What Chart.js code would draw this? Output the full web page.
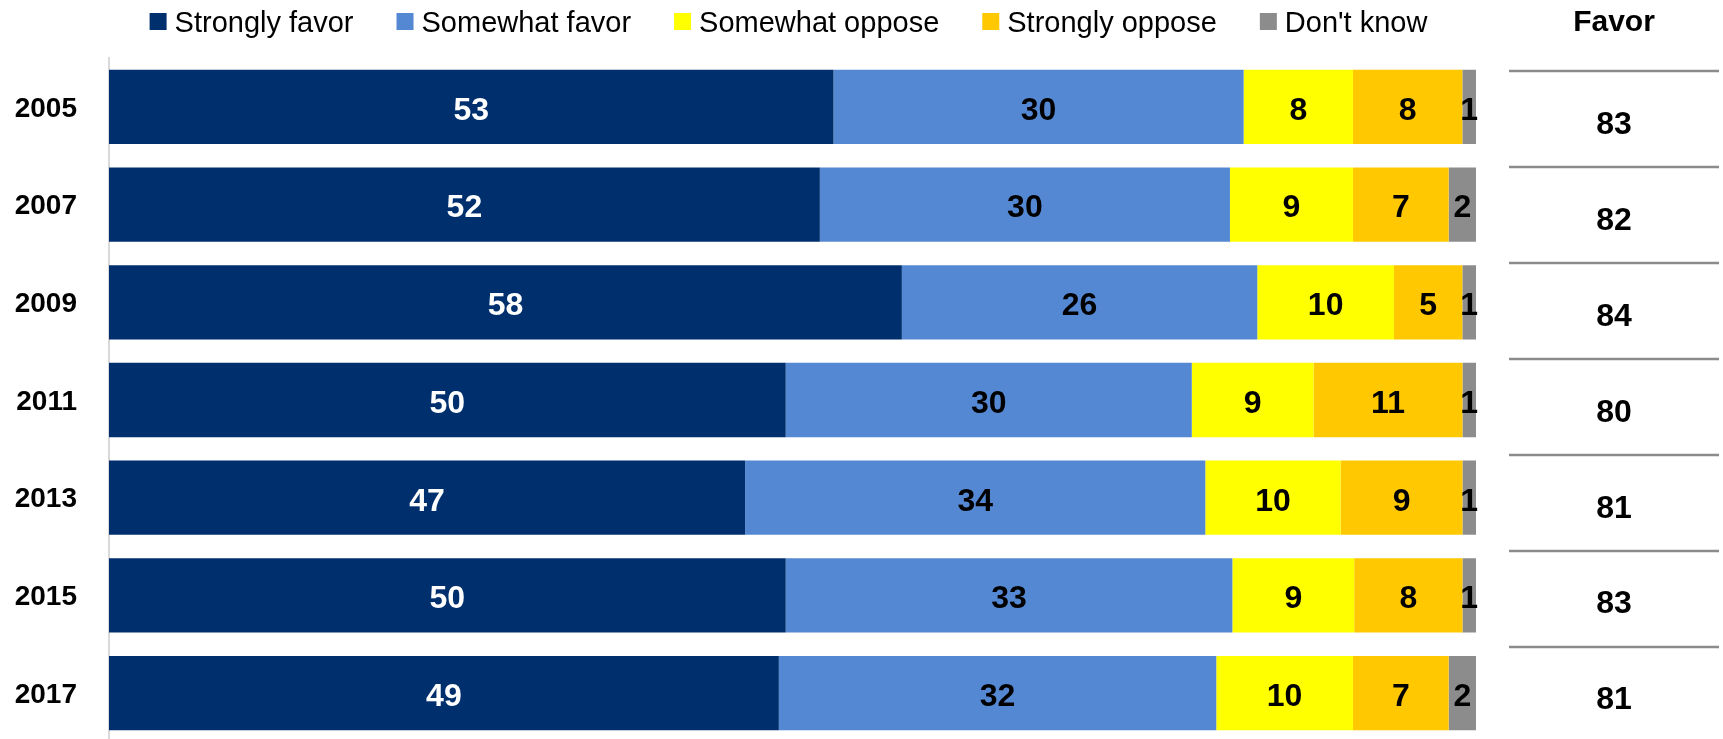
<!DOCTYPE html>
<html>
<head>
<meta charset="utf-8">
<script src="https://cdn.jsdelivr.net/npm/chart.js@4"></script>
<style>
  html, body { margin: 0; padding: 0; background: #fff; overflow: hidden; }
  #wrap { position: relative; width: 1723px; height: 760px; }
</style>
</head>
<body>
<div id="wrap"><canvas id="chart"></canvas></div>
<script>
// survey years (rows)
const years = ['2005', '2007', '2009', '2011', '2013', '2015', '2017'];

// answer shares, % as labelled
const stronglyFavor  = [53, 52, 58, 50, 47, 50, 49];
const somewhatFavor  = [30, 30, 26, 30, 34, 33, 32];
const somewhatOppose = [8, 9, 10, 9, 10, 9, 10];
const stronglyOppose = [8, 7, 5, 11, 9, 8, 7];
const dontKnow       = [1, 2, 1, 1, 1, 1, 2];

// right-hand "Favor" column
const favorTotal = [83, 82, 84, 80, 81, 83, 81];

const seriesNames  = ['Strongly favor', 'Somewhat favor', 'Somewhat oppose', 'Strongly oppose', "Don't know"];
const seriesColors = ['#002F6E', '#5588D2', '#FFFF00', '#FFC800', '#8C8C8C'];
const labelColors  = ['#FFFFFF', '#000000', '#000000', '#000000', '#000000'];

const FONT = '"Liberation Sans", Arial, sans-serif';

const raw = [stronglyFavor, somewhatFavor, somewhatOppose, stronglyOppose, dontKnow];
// 100% stacked: each row scaled to its own total
const rowTotals = years.map((_, i) => raw.reduce((s, arr) => s + arr[i], 0));

const datasets = raw.map((arr, k) => ({
    label: seriesNames[k],
    data: arr.map((v, i) => v / rowTotals[i] * 100),
    rawValues: arr,
    backgroundColor: seriesColors[k],
    borderWidth: 0,
    barPercentage: 1,
    categoryPercentage: 0.76
}));

// draws the value labels, the legend and the Favor column
const extras = {
    id: 'extras',
    afterDatasetsDraw(chart) {
        const ctx = chart.ctx;
        const area = chart.chartArea;
        const yScale = chart.scales.y;

        // segment labels
        ctx.save();
        ctx.font = 'bold 32px ' + FONT;
        ctx.textAlign = 'center';
        ctx.textBaseline = 'middle';
        chart.data.datasets.forEach((ds, k) => {
            const meta = chart.getDatasetMeta(k);
            ctx.fillStyle = labelColors[k];
            meta.data.forEach((bar, i) => {
                const x = (bar.x + bar.base) / 2;
                ctx.fillText(String(ds.rawValues[i]), x, bar.y + 4);
            });
        });
        ctx.restore();

        // legend
        ctx.save();
        ctx.font = '29px ' + FONT;
        ctx.textBaseline = 'middle';
        const box = 17, gapText = 8, gapItem = 43;
        const widths = seriesNames.map(n => ctx.measureText(n).width);
        let total = widths.reduce((s, w) => s + w + box + gapText, 0) + gapItem * (seriesNames.length - 1);
        let x = (area.left + area.right) / 2 - 4 - total / 2;
        seriesNames.forEach((n, k) => {
            ctx.fillStyle = seriesColors[k];
            ctx.fillRect(x, 13, box, box);
            ctx.fillStyle = '#000';
            ctx.textAlign = 'left';
            ctx.fillText(n, x + box + gapText, 24);
            x += box + gapText + widths[k] + gapItem;
        });
        ctx.restore();

        // Favor column (rows a little tighter than the bars)
        const cx = area.right + 138;
        const y0 = yScale.getPixelForValue(0);
        ctx.save();
        ctx.fillStyle = '#000';
        ctx.textAlign = 'center';
        ctx.textBaseline = 'middle';
        ctx.font = 'bold 30px ' + FONT;
        ctx.fillText('Favor', cx, 23);
        ctx.font = 'bold 32px ' + FONT;
        ctx.strokeStyle = '#8C8C8C';
        ctx.lineWidth = 2.5;
        favorTotal.forEach((v, i) => {
            const yc = y0 + (yScale.getPixelForValue(i) - y0) * 0.982;
            const ln = Math.round(yc - 35.5);
            ctx.beginPath();
            ctx.moveTo(cx - 105, ln);
            ctx.lineTo(cx + 105, ln);
            ctx.stroke();
            ctx.fillText(String(v), cx, yc + 18);
        });
        ctx.restore();
    }
};

new Chart(document.getElementById('chart'), {
    type: 'bar',
    data: { labels: years, datasets: datasets },
    options: {
        indexAxis: 'y',
        responsive: true,
        maintainAspectRatio: false,
        animation: false,
        devicePixelRatio: 1,
        layout: { padding: { top: 58, bottom: 18, right: 247, left: 0 } },
        plugins: {
            legend: { display: false },
            tooltip: { enabled: false }
        },
        scales: {
            x: {
                stacked: true,
                display: false,
                min: 0,
                max: 100
            },
            y: {
                stacked: true,
                afterFit(scale) { scale.width = 109; },
                grid: {
                    display: true,
                    drawOnChartArea: false,
                    drawTicks: true,
                    tickLength: 32,
                    color: 'rgba(0,0,0,0)'
                },
                border: { display: true, color: '#D9D9D9', width: 2 },
                ticks: {
                    color: '#000',
                    padding: 0,
                    labelOffset: 2,
                    font: { family: FONT, size: 28, weight: 'bold' }
                }
            }
        }
    },
    plugins: [extras]
});
</script>
</body>
</html>
